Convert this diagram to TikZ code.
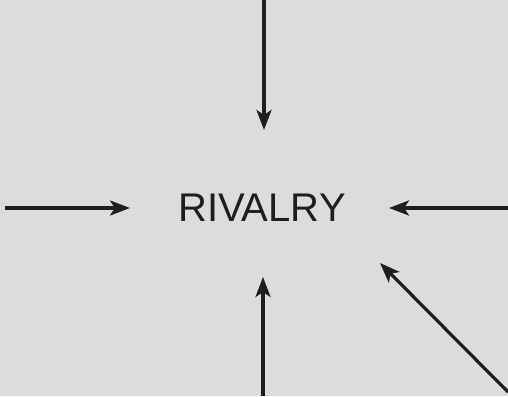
\documentclass[tikz,border=0pt]{standalone}
\usepackage{fontspec}
\setmainfont{Liberation Sans}
\usetikzlibrary{arrows.meta}
\definecolor{bg}{HTML}{DCDCDC}
\definecolor{ink}{HTML}{1E1E1E}
\begin{document}
\begin{tikzpicture}[x=1pt,y=-1pt,
  force/.style={draw=ink,line width=3.2pt,-{Stealth[length=20pt,width=15pt,inset=5pt]}}]
\fill[bg] (0,0) rectangle (508,396);
\useasboundingbox (0,0) rectangle (508,396);
\node[text=ink,font=\fontsize{40}{48}\selectfont] (r) at (262,208) {RIVALRY};
\coordinate (t0) at (264,0);
\coordinate (t1) at (264,130);
\coordinate (l0) at (5,208);
\coordinate (l1) at (130,208);
\coordinate (r0) at (508,208);
\coordinate (r1) at (389,208);
\coordinate (b0) at (263,396);
\coordinate (b1) at (263,277);
\coordinate (d0) at (508,392);
\coordinate (d1) at (380,263);
\draw[force] (t0) -- (t1);
\draw[force] (l0) -- (l1);
\draw[force] (r0) -- (r1);
\draw[force] (b0) -- (b1);
\draw[force] (d0) -- (d1);
\end{tikzpicture}
\end{document}
